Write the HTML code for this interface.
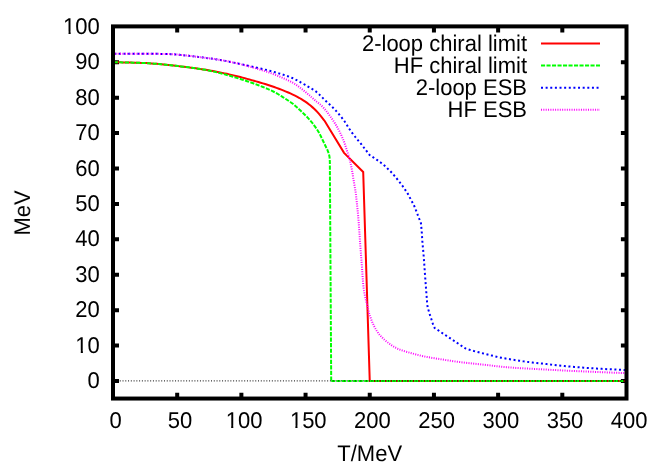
<!DOCTYPE html>
<html>
<head>
<meta charset="utf-8">
<title>Chart</title>
<style>
html,body{margin:0;padding:0;background:#fff;}
body{width:664px;height:465px;overflow:hidden;font-family:"Liberation Sans",sans-serif;}
svg{display:block;}
</style>
</head>
<body>
<svg width="664" height="465" viewBox="0 0 664 465" style="will-change:transform">
<path d="M177.19 398.55 V392.75 M177.19 26.4 V32.4 M241.38 398.55 V392.75 M241.38 26.4 V32.4 M305.56 398.55 V392.75 M305.56 26.4 V32.4 M369.75 398.55 V392.75 M369.75 26.4 V32.4 M433.94 398.55 V392.75 M433.94 26.4 V32.4 M498.12 398.55 V392.75 M498.12 26.4 V32.4 M562.31 398.55 V392.75 M562.31 26.4 V32.4 M113 381 H119 M626.5 381 H620.9 M113 345.58 H119 M626.5 345.58 H620.9 M113 310.16 H119 M626.5 310.16 H620.9 M113 274.74 H119 M626.5 274.74 H620.9 M113 239.32 H119 M626.5 239.32 H620.9 M113 203.9 H119 M626.5 203.9 H620.9 M113 168.48 H119 M626.5 168.48 H620.9 M113 133.06 H119 M626.5 133.06 H620.9 M113 97.64 H119 M626.5 97.64 H620.9 M113 62.22 H119 M626.5 62.22 H620.9" stroke="#000" stroke-width="4" fill="none"/>
<clipPath id="c"><rect x="114.6" y="26.4" width="510.3" height="372.15"/></clipPath>
<g clip-path="url(#c)" fill="none" stroke-width="2" stroke-linejoin="miter">
<path d="M113 62.2L114.36 62.23L116.04 62.27L118.01 62.31L120.22 62.35L122.62 62.39L125.18 62.44L127.85 62.5L130.59 62.56L133.36 62.63L136.11 62.7L138.8 62.79L141.39 62.88L143.84 62.99L146.1 63.1L148.79 63.26L151.41 63.44L153.95 63.63L156.43 63.83L158.87 64.05L161.28 64.28L163.66 64.52L166.05 64.77L168.44 65.02L170.85 65.28L173.3 65.55L175.8 65.83L178.33 66.12L180.9 66.42L183.48 66.73L186.05 67.05L188.59 67.38L191.1 67.71L193.55 68.04L195.93 68.36L198.22 68.68L200.4 69L203.22 69.42L205.86 69.84L208.37 70.25L210.76 70.66L213.09 71.08L215.38 71.5L217.67 71.94L220 72.4L222.33 72.87L224.63 73.36L226.9 73.85L229.15 74.36L231.39 74.87L233.62 75.4L235.85 75.94L238.1 76.5L240.35 77.07L242.6 77.65L244.85 78.25L247.1 78.86L249.35 79.48L251.6 80.11L253.85 80.75L256.1 81.4L258.36 82.05L260.62 82.71L262.88 83.37L265.14 84.05L267.41 84.74L269.67 85.46L271.94 86.21L274.2 87L276.51 87.84L278.89 88.74L281.3 89.67L283.7 90.62L286.04 91.58L288.28 92.53L290.38 93.44L292.3 94.3L295.01 95.59L297.37 96.83L299.48 98.01L301.41 99.17L303.25 100.3L305.32 101.64L307.11 102.91L308.78 104.19L310.5 105.6L312.31 107.13L314.12 108.74L315.92 110.45L317.7 112.3L319.22 114.05L320.85 116.05L322.41 118.05L323.75 119.78L324.7 121L344.05 152.85L363.2 172L369.75 381L626.5 381" stroke="#ff0000"/>
<path d="M113 62.2L114.36 62.23L116.04 62.27L118.01 62.31L120.22 62.35L122.62 62.39L125.18 62.44L127.85 62.5L130.59 62.56L133.36 62.63L136.11 62.7L138.8 62.79L141.39 62.88L143.84 62.99L146.1 63.1L148.79 63.26L151.41 63.44L153.95 63.63L156.43 63.83L158.87 64.05L161.28 64.28L163.66 64.52L166.05 64.77L168.44 65.02L170.85 65.28L173.3 65.55L175.8 65.82L178.33 66.11L180.9 66.4L183.48 66.7L186.05 67.01L188.59 67.33L191.1 67.66L193.55 67.99L195.93 68.32L198.22 68.66L200.4 69L202.92 69.42L205.29 69.85L207.54 70.28L209.71 70.72L211.8 71.17L213.86 71.63L215.89 72.1L217.93 72.59L220 73.1L222.33 73.69L224.63 74.3L226.9 74.93L229.15 75.57L231.39 76.24L233.62 76.91L235.85 77.6L238.1 78.3L240.35 79.01L242.6 79.73L244.85 80.46L247.1 81.2L249.35 81.96L251.6 82.75L253.85 83.56L256.1 84.4L258.37 85.26L260.66 86.13L262.95 87.03L265.25 87.94L267.53 88.89L269.79 89.88L272.02 90.92L274.2 92L276.41 93.19L278.68 94.5L280.96 95.89L283.19 97.3L285.33 98.69L287.31 100L289.09 101.18L290.6 102.2L293.19 104.06L294.56 105.27L296 106.6L297.46 107.86L298.96 109.19L300.48 110.58L302 112L303.52 113.45L305.05 114.94L306.58 116.48L308.1 118.1L309.64 119.82L311.18 121.63L312.69 123.47L314.1 125.3L315.41 127.1L316.65 128.89L317.81 130.69L318.9 132.5L319.9 134.34L320.81 136.2L321.66 138.04L322.5 139.8L323.59 142.02L324.62 144.14L325.6 146.2L326.57 148.21L327.49 150.16L328.25 152L328.8 153.7L329.2 155.29L329.5 156.9L329.7 158.74L329.79 160.6L329.85 161.9L331.2 381" stroke="#00ff00" stroke-dasharray="4.15 1.4" stroke-dashoffset="-0.75"/>
<path d="M331.2 381L626.5 381" stroke="#00ff00" stroke-dasharray="4.15 1.4" stroke-dashoffset="0.3"/>
<path d="M113 53.7L114.42 53.7L116.2 53.71L118.28 53.71L120.61 53.71L123.15 53.71L125.84 53.72L128.64 53.72L131.51 53.73L134.38 53.74L137.21 53.75L139.96 53.76L142.57 53.78L145 53.8L147.49 53.82L149.94 53.83L152.36 53.84L154.75 53.85L157.11 53.86L159.46 53.88L161.78 53.9L164.09 53.94L166.4 54L168.7 54.07L171 54.17L173.3 54.3L175.84 54.47L178.4 54.68L180.98 54.92L183.56 55.19L186.12 55.47L188.66 55.76L191.15 56.06L193.58 56.36L195.95 56.65L198.22 56.93L200.4 57.2L203.22 57.54L205.86 57.87L208.37 58.18L210.76 58.5L213.09 58.82L215.38 59.16L217.67 59.52L220 59.9L222.33 60.31L224.63 60.75L226.9 61.21L229.15 61.68L231.39 62.15L233.62 62.64L235.85 63.12L238.1 63.6L240.35 64.07L242.6 64.55L244.85 65.02L247.1 65.5L249.35 65.98L251.6 66.47L253.85 66.98L256.1 67.5L258.36 68.03L260.62 68.56L262.88 69.1L265.14 69.65L267.41 70.21L269.67 70.8L271.94 71.41L274.2 72.05L276.46 72.7L278.72 73.34L280.99 74L283.25 74.68L285.51 75.41L287.77 76.19L290.04 77.05L292.3 78L294.38 78.97L296.56 80.07L298.79 81.26L301.01 82.51L303.19 83.76L305.27 84.98L307.2 86.12L308.92 87.14L310.4 88L313.13 89.52L314.5 90.35L316.3 91.8L317.74 93.08L319.39 94.63L321.15 96.34L322.92 98.09L324.6 99.75L326.1 101.2L328 102.98L329.66 104.5L331.22 105.95L332.8 107.5L334.44 109.2L336.07 110.94L337.66 112.72L339.2 114.5L340.67 116.28L342.1 118.06L343.48 119.87L344.8 121.7L346.04 123.58L347.21 125.48L348.37 127.4L349.6 129.3L350.91 131.18L352.28 133.05L353.67 134.91L355.1 136.75L356.64 138.66L358.28 140.62L359.82 142.46L361.1 144L362.46 145.73L363.8 147.5L365.17 149.27L366.87 151.47L368.49 153.56L369.6 155L370.93 155.86L372.84 157.1L374.98 158.51L377 159.9L378.94 161.3L380.95 162.8L382.83 164.25L384.4 165.5L386.36 167.3L387.8 168.8L389.47 170.39L391.1 172L392.62 173.68L394.1 175.4L395.61 177.18L397.1 179L398.56 180.82L400 182.65L401.42 184.47L402.8 186.3L404.11 188.18L405.4 190.1L406.73 192.09L408 194.1L409.07 196.09L410.1 198.1L411.21 200.16L412.3 202.2L413.33 204.12L414.3 206.1L415.22 208.33L416.1 210.6L416.91 212.72L417.7 214.8L418.49 216.88L419.3 219L420.25 221.51L421 223.5L421.18 225.52L421.4 228.1L421.59 230.08L421.8 232.65L421.93 234.63L422.07 236.98L422.23 239.47L422.4 241.9L422.6 244.22L422.82 246.55L423.04 248.88L423.25 251.2L423.43 253.29L423.6 255.22L423.78 257.45L424 260.4L424.14 262.26L424.28 264.36L424.44 266.64L424.61 269.04L424.78 271.52L424.95 274.03L425.13 276.5L425.3 278.9L425.48 281.31L425.67 283.84L425.86 286.42L426.06 288.98L426.25 291.46L426.43 293.8L426.6 295.93L426.75 297.8L426.98 300.75L427.14 302.95L427.3 304.7L427.5 306.3L428.07 308.81L428.7 310.8L429.34 312.97L430 315.1L430.69 317.18L431.4 319.3L432.13 321.61L432.9 323.9L433.89 326.24L434.7 328L465.4 348.4L467.22 349.02L469.6 349.8L471.82 350.47L474.1 351.1L476.12 351.58L478.7 352.2L480.51 352.68L482.59 353.25L484.95 353.88L487.6 354.55L489.58 355.04L491.76 355.57L494.06 356.13L496.43 356.68L498.8 357.21L501.1 357.7L503.35 358.14L505.6 358.54L507.84 358.92L510.09 359.29L512.34 359.64L514.6 360L516.85 360.36L519.1 360.7L521.36 361.04L523.62 361.37L525.9 361.69L528.2 362L530.41 362.28L532.5 362.52L534.61 362.76L536.87 363L539.42 363.27L542.4 363.6L544.43 363.83L546.63 364.08L548.96 364.35L551.41 364.63L553.94 364.92L556.54 365.21L559.18 365.5L561.84 365.78L564.49 366.05L567.1 366.3L569.45 366.51L571.81 366.72L574.18 366.93L576.56 367.12L578.96 367.32L581.39 367.51L583.86 367.69L586.37 367.87L588.92 368.05L591.53 368.23L594.2 368.4L596.6 368.55L599.21 368.7L601.96 368.85L604.81 369.01L607.71 369.16L610.61 369.31L613.46 369.45L616.19 369.59L618.77 369.72L621.14 369.83L623.26 369.94L625.06 370.03L626.5 370.1" stroke="#0000ff" stroke-dasharray="2 2.607" stroke-dashoffset="-1.3"/>
<path d="M113 53.7L114.42 53.7L116.2 53.71L118.28 53.71L120.61 53.71L123.15 53.71L125.84 53.72L128.64 53.72L131.51 53.73L134.38 53.74L137.21 53.75L139.96 53.76L142.57 53.78L145 53.8L147.49 53.82L149.94 53.83L152.36 53.84L154.75 53.85L157.11 53.86L159.46 53.88L161.78 53.9L164.09 53.94L166.4 54L168.7 54.07L171 54.17L173.3 54.3L175.84 54.47L178.4 54.68L180.98 54.92L183.56 55.19L186.12 55.47L188.66 55.76L191.15 56.06L193.58 56.36L195.95 56.65L198.22 56.93L200.4 57.2L203.22 57.54L205.86 57.87L208.37 58.18L210.76 58.5L213.09 58.82L215.38 59.16L217.67 59.52L220 59.9L222.33 60.31L224.63 60.73L226.9 61.17L229.15 61.62L231.39 62.09L233.62 62.57L235.85 63.08L238.1 63.6L240.35 64.14L242.6 64.69L244.85 65.27L247.1 65.86L249.35 66.46L251.6 67.09L253.85 67.74L256.1 68.4L258.36 69.08L260.62 69.77L262.88 70.47L265.14 71.19L267.41 71.94L269.67 72.72L271.94 73.54L274.2 74.4L276.51 75.31L278.88 76.28L281.29 77.29L283.68 78.32L286.01 79.38L288.25 80.43L290.36 81.48L292.3 82.5L294.58 83.82L296.58 85.12L298.39 86.41L300.1 87.73L301.81 89.08L303.6 90.5L305.5 92.03L307.44 93.66L309.37 95.34L311.25 96.99L313.04 98.57L314.7 100L316.48 101.47L318.08 102.73L319.57 103.92L321.02 105.17L322.5 106.6L324.01 108.26L325.52 110.06L327 111.95L328.43 113.85L329.8 115.7L331.1 117.51L332.35 119.31L333.55 121.1L334.7 122.9L335.8 124.7L336.86 126.51L337.86 128.32L338.82 130.14L339.74 131.93L340.6 133.7L341.61 135.89L342.55 138.05L343.41 140.16L344.2 142.2L344.88 144.1L345.46 145.9L346.01 147.7L346.6 149.6L347.26 151.59L347.95 153.64L348.64 155.79L349.3 158.1L349.82 160.11L350.33 162.25L350.83 164.46L351.31 166.7L351.75 168.9L352.15 171.08L352.51 173.26L352.86 175.44L353.2 177.62L353.55 179.8L353.94 182.05L354.34 184.38L354.74 186.67L355.1 188.78L355.4 190.6L355.67 192.36L355.82 193.53L356.1 196.1L356.28 197.76L356.5 199.74L356.75 201.96L357.01 204.36L357.27 206.86L357.53 209.38L357.78 211.85L358 214.2L358.2 216.51L358.4 218.9L358.59 221.31L358.78 223.71L358.95 226.05L359.11 228.29L359.26 230.39L359.4 232.3L359.57 234.77L359.69 236.68L359.79 238.44L359.91 240.44L360.1 243.1L360.24 244.93L360.39 246.93L360.56 249.07L360.74 251.34L360.93 253.69L361.12 256.11L361.31 258.57L361.51 261.04L361.7 263.5L361.87 265.77L362.03 268.15L362.2 270.61L362.36 273.11L362.53 275.62L362.71 278.11L362.89 280.52L363.08 282.83L363.28 285L363.5 287L363.92 290.05L364.4 292.87L364.9 295.44L365.39 297.74L365.84 299.73L366.2 301.4L366.76 303.64L367.2 305L367.74 307.3L368.36 310.01L368.9 312.3L369.28 313.94L369.9 315.8L370.57 317.68L371.43 320.01L372.41 322.5L373.5 324.9L374.44 326.74L375.44 328.59L376.52 330.43L377.68 332.22L378.9 333.9L380.19 335.47L381.56 336.95L383 338.36L384.51 339.74L386.1 341.1L387.8 342.48L389.61 343.85L391.48 345.18L393.36 346.41L395.2 347.5L397.24 348.57L399.14 349.39L401.31 350.17L404.2 351.1L406.03 351.66L408.09 352.27L410.32 352.92L412.68 353.57L415.11 354.23L417.56 354.86L419.98 355.46L422.3 356L424.56 356.48L426.83 356.93L429.09 357.35L431.36 357.74L433.62 358.11L435.88 358.47L438.14 358.84L440.4 359.2L442.62 359.56L444.77 359.91L446.91 360.25L449.05 360.59L451.24 360.92L453.5 361.24L455.88 361.57L458.4 361.9L460.52 362.16L462.72 362.42L464.98 362.68L467.31 362.93L469.68 363.19L472.1 363.44L474.56 363.7L477.05 363.96L479.57 364.23L482.1 364.5L484.41 364.76L486.71 365.02L489.02 365.29L491.36 365.57L493.73 365.84L496.14 366.12L498.6 366.39L501.13 366.66L503.73 366.92L506.42 367.17L509.2 367.4L511.31 367.56L513.49 367.72L515.72 367.88L518 368.03L520.33 368.17L522.69 368.31L525.08 368.45L527.49 368.59L529.92 368.72L532.36 368.85L534.81 368.98L537.25 369.11L539.69 369.24L542.1 369.37L544.5 369.5L546.87 369.63L549.21 369.75L551.53 369.88L553.84 370L556.14 370.12L558.45 370.24L560.78 370.35L563.12 370.47L565.49 370.59L567.89 370.7L570.33 370.82L572.83 370.94L575.39 371.06L578.01 371.18L580.7 371.3L582.94 371.4L585.34 371.51L587.87 371.61L590.51 371.73L593.24 371.84L596.02 371.96L598.83 372.07L601.66 372.19L604.47 372.31L607.24 372.42L609.95 372.53L612.58 372.64L615.09 372.74L617.47 372.83L619.69 372.92L621.73 373.01L623.56 373.08L625.16 373.14L626.5 373.2" stroke="#ff00ff" stroke-dasharray="1 1.35"/>
<line x1="113" y1="380.9" x2="626.5" y2="380.9" stroke="#000" stroke-width="1" stroke-dasharray="1 1.7655" stroke-dashoffset="-1.22"/>
</g>
<g fill="none" stroke-width="2">
<path d="M541 43.4 H600" stroke="#ff0000"/>
<path d="M541 65.4 H600" stroke="#00ff00" stroke-dasharray="4.1 1.4"/>
<path d="M541 87.7 H600" stroke="#0000ff" stroke-dasharray="2 2.63"/>
<path d="M541 109.8 H600" stroke="#ff00ff" stroke-dasharray="1 1.35"/>
</g>
<rect x="113" y="26.4" width="513.5" height="372.15" fill="none" stroke="#000" stroke-width="4"/>
<g font-family="'Liberation Sans', sans-serif" font-size="22" fill="#000" style="mix-blend-mode:multiply;text-rendering:geometricPrecision">
<text transform="translate(527 50.9) scale(1 1.03)" text-anchor="end">2-loop chiral limit</text>
<text transform="translate(527 72.9) scale(1 1.03)" text-anchor="end">HF chiral limit</text>
<text transform="translate(527 95.2) scale(1 1.03)" text-anchor="end">2-loop ESB</text>
<text transform="translate(527 117.3) scale(1 1.03)" text-anchor="end">HF ESB</text>
<text transform="translate(99.8 388.15) scale(1 1.04)" text-anchor="end">0</text>
<text transform="translate(99.8 352.73) scale(1 1.04)" text-anchor="end">10</text>
<text transform="translate(99.8 317.31) scale(1 1.04)" text-anchor="end">20</text>
<text transform="translate(99.8 281.89) scale(1 1.04)" text-anchor="end">30</text>
<text transform="translate(99.8 246.47) scale(1 1.04)" text-anchor="end">40</text>
<text transform="translate(99.8 211.05) scale(1 1.04)" text-anchor="end">50</text>
<text transform="translate(99.8 175.63) scale(1 1.04)" text-anchor="end">60</text>
<text transform="translate(99.8 140.21) scale(1 1.04)" text-anchor="end">70</text>
<text transform="translate(99.8 104.79) scale(1 1.04)" text-anchor="end">80</text>
<text transform="translate(99.8 69.37) scale(1 1.04)" text-anchor="end">90</text>
<text transform="translate(99.8 33.95) scale(1 1.04)" text-anchor="end">100</text>
<text transform="translate(115.7 428) scale(1 1.04)" text-anchor="middle">0</text>
<text transform="translate(179.89 428) scale(1 1.04)" text-anchor="middle">50</text>
<text transform="translate(244.07 428) scale(1 1.04)" text-anchor="middle">100</text>
<text transform="translate(308.26 428) scale(1 1.04)" text-anchor="middle">150</text>
<text transform="translate(372.45 428) scale(1 1.04)" text-anchor="middle">200</text>
<text transform="translate(436.64 428) scale(1 1.04)" text-anchor="middle">250</text>
<text transform="translate(500.82 428) scale(1 1.04)" text-anchor="middle">300</text>
<text transform="translate(565.01 428) scale(1 1.04)" text-anchor="middle">350</text>
<text transform="translate(629.2 428) scale(1 1.04)" text-anchor="middle">400</text>
<text transform="translate(369.7 461) scale(1 1.03)" text-anchor="middle">T/MeV</text>
<text transform="translate(29.5 213) rotate(-90) scale(1 1.03)" text-anchor="middle">MeV</text>
</g>
<path d="M63.47 31.79h5.06v2.71h-5.06zM70.67 31.79h4.18v2.71h-4.18zM75.71 350.57h5.06v2.71h-5.06zM82.91 350.57h4.18v2.71h-4.18zM226.1 425.84h5.06v2.71h-5.06zM233.3 425.84h4.18v2.71h-4.18zM290.29 425.84h5.06v2.71h-5.06zM297.49 425.84h4.18v2.71h-4.18z" fill="#fff"/>
</svg>
</body>
</html>
